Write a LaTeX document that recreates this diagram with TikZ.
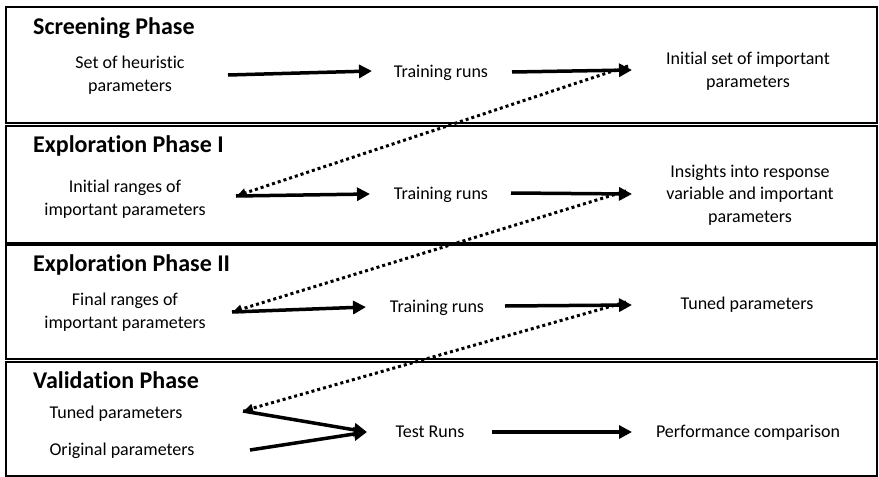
\documentclass[tikz,border=0pt]{standalone}
\usepackage{fontspec}
\setmainfont{Carlito}[Ligatures=NoCommon]
\usetikzlibrary{arrows.meta}
\tikzset{
	phase/.style={draw, line width=1.6pt},
	title/.style={anchor=base west, inner sep=0pt, font=\fontsize{24}{28}\selectfont\bfseries},
	txt/.style={anchor=base, inner sep=0pt, align=center, font=\fontsize{18}{22.5}\selectfont},
	flow/.style={line width=3.5pt, -{Triangle[length=13pt,width=13pt]}},
	back/.style={line width=3pt, dash pattern=on 3pt off 3pt, -{Latex[length=10pt,width=10pt]}}
}
\begin{document}
\begin{tikzpicture}[x=1pt,y=-1pt]
	\useasboundingbox (0,0) rectangle (879,477);
	\draw[phase] (6,7) rectangle (877,123);
	\draw[phase] (6,126) rectangle (877,243);
	\draw[phase] (6,245) rectangle (877,359);
	\draw[phase] (6,362) rectangle (877,476);

	\node[title] (screen) at (33,34) {Screening Phase};
	\node[txt] (heur) at (130,91) {Set of heuristic\\parameters};
	\node[txt] (train1) at (441,77) {Training runs};
	\node[txt] (init) at (748,87) {Initial set of important\\parameters};
	\coordinate (s1) at (228,75);
	\coordinate (e1) at (372,71);
	\coordinate (s2) at (512,72);
	\coordinate (e2) at (632,70);

	\node[title] (explA) at (33,152) {Exploration Phase I};
	\node[txt] (rangeA) at (125,215) {Initial ranges of\\important parameters};
	\node[txt] (train2) at (441,199) {Training runs};
	\node[txt] (insight) at (750,222) {Insights into response\\variable and important\\parameters};
	\coordinate (s3) at (236,196);
	\coordinate (e3) at (370,194);
	\coordinate (s4) at (511,193);
	\coordinate (e4) at (632,194);

	\node[title] (explB) at (33,271) {Exploration Phase II};
	\node[txt] (rangeB) at (125,328) {Final ranges of\\important parameters};
	\node[txt] (train3) at (437,312) {Training runs};
	\node[txt] (tuned) at (747,309) {Tuned parameters};
	\coordinate (s5) at (232,312);
	\coordinate (e5) at (366,307);
	\coordinate (s6) at (505,306);
	\coordinate (e6) at (632,305);

	\node[title] (valid) at (33,388) {Validation Phase};
	\node[txt] (tunedIn) at (116,418) {Tuned parameters};
	\node[txt] (orig) at (122,455) {Original parameters};
	\node[txt] (test) at (430,437) {Test Runs};
	\node[txt] (perf) at (748,437) {Performance comparison};
	\coordinate (s7) at (243,411);
	\coordinate (s8) at (250,450);
	\coordinate (e7) at (367,432);
	\coordinate (s9) at (492,432);
	\coordinate (e9) at (632,432);

	\draw[flow] (s1) -- (e1);
	\draw[flow] (s2) -- (e2);
	\draw[flow] (s3) -- (e3);
	\draw[flow] (s4) -- (e4);
	\draw[flow] (s5) -- (e5);
	\draw[flow] (s6) -- (e6);
	\draw[flow] (s7) -- (e7);
	\draw[flow] (s8) -- (e7);
	\draw[flow] (s9) -- (e9);

	\draw[back] ([xshift=-4pt,yshift=4pt]e2) -- (s3);
	\draw[back] ([xshift=-6pt,yshift=3pt]e4) -- (s5);
	\draw[back] ([xshift=-6pt,yshift=3pt]e6) -- (s7);
\end{tikzpicture}
\end{document}
